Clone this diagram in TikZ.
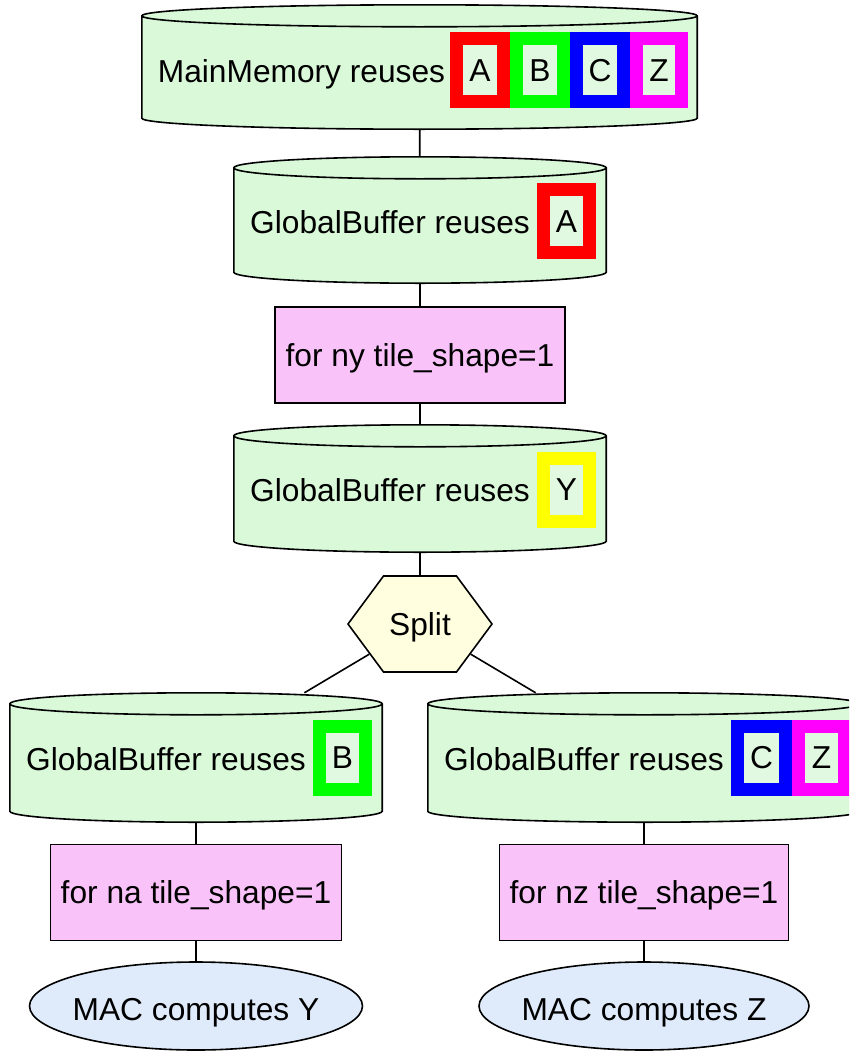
\documentclass[tikz,border=0pt]{standalone}
\usepackage{fontspec}
\setmainfont{Liberation Sans}
\usetikzlibrary{shapes.symbols,shapes.geometric,calc}
\definecolor{cylfill}{HTML}{D9F9D9}
\definecolor{innerfill}{HTML}{E1F9E1}
\definecolor{loopfill}{HTML}{F9C3F9}
\definecolor{splitfill}{HTML}{FFFFE0}
\definecolor{macfill}{HTML}{DFEBFB}
\definecolor{tred}{HTML}{FF0000}
\definecolor{tgreen}{HTML}{00FF00}
\definecolor{tblue}{HTML}{0000FF}
\definecolor{tmag}{HTML}{FF00FF}
\definecolor{tyellow}{HTML}{FFFF00}
\newcommand\cylbody[1]{%
  \path[cylshape] let \p1=(#1.north west), \p2=(#1.south east), \n1={(\x2-\x1)/2} in
    (\x1,\y1-11pt) -- (\x1,\y2+11pt)
    arc[start angle=180,end angle=360,x radius=\n1,y radius=11pt]
    -- (\x2,\y1-11pt)
    arc[start angle=0,end angle=180,x radius=\n1,y radius=11pt] -- cycle
    (\x1,\y1-11pt) arc[start angle=180,end angle=360,x radius=\n1,y radius=11pt];}
\begin{document}
\begin{tikzpicture}[x=1pt,y=-1pt,
  font=\fontsize{31.7}{38}\selectfont,
  every node/.append style={inner sep=0pt, text height=22.7pt, text depth=0pt},
  cylnode/.style={rectangle, draw=none},
  cylshape/.style={draw, fill=cylfill, line width=1.6pt},
  tbox/.style={rectangle, draw=#1, line width=13pt, fill=innerfill, minimum height=63pt},
  loopbox/.style={rectangle, draw, line width=1.6pt, fill=loopfill, minimum height=96pt},
  splitnode/.style={signal, signal to=west and east, signal pointer angle=107, draw, line width=1.6pt, fill=splitfill, minimum width=144pt, minimum height=96pt},
  macnode/.style={ellipse, draw, line width=1.6pt, fill=macfill, minimum height=88pt, inner xsep=-60pt, text height=29.7pt, text depth=0pt},
  edge/.style={draw, line width=1.6pt}]
\useasboundingbox (0,0) rectangle (849,1055);
\clip (0,0) rectangle (849,1055);

% MainMemory
\node[cylnode, minimum width=555pt, minimum height=124pt] (mm) at (419.5,67) {};
\cylbody{mm}
\node (mmt) at (301.5,71) {MainMemory reuses};
\node[tbox=tred, minimum width=47pt] (mmA) at (480,70) {A};
\node[tbox=tgreen, minimum width=47pt] (mmB) at (540,70) {B};
\node[tbox=tblue, minimum width=47pt] (mmC) at (600,70) {C};
\node[tbox=tmag, minimum width=45pt] (mmZ) at (659,70) {Z};

% GlobalBuffer A
\node[cylnode, minimum width=372pt, minimum height=126pt] (gbA) at (420,220) {};
\cylbody{gbA}
\node (gbAt) at (390,222) {GlobalBuffer reuses};
\node[tbox=tred, minimum width=46pt] (gbAA) at (566.5,221) {A};

% loop ny
\node[loopbox, minimum width=290pt] (ny) at (420,355) {for ny tile\_shape=1};

% GlobalBuffer Y
\node[cylnode, minimum width=372pt, minimum height=127pt] (gbY) at (420,488.5) {};
\cylbody{gbY}
\node (gbYt) at (390,490) {GlobalBuffer reuses};
\node[tbox=tyellow, minimum width=46pt] (gbYY) at (566.5,489.5) {Y};

% Split
\node[splitnode] (split) at (420,624) {Split};

% GlobalBuffer B
\node[cylnode, minimum width=372pt, minimum height=129pt] (gbB) at (196,757.5) {};
\cylbody{gbB}
\node (gbBt) at (166,759) {GlobalBuffer reuses};
\node[tbox=tgreen, minimum width=46pt] (gbBB) at (342.5,757.5) {B};

% GlobalBuffer C Z
\node[cylnode, minimum width=432pt, minimum height=129pt] (gbCZ) at (644,757.5) {};
\cylbody{gbCZ}
\node (gbCZt) at (584,759) {GlobalBuffer reuses};
\node[tbox=tblue, minimum width=48pt] (gbCZC) at (761.5,757.5) {C};
\node[tbox=tmag, minimum width=46pt] (gbCZZ) at (821.5,757.5) {Z};

% loops
\node[loopbox, minimum width=291pt] (na) at (196,892.5) {for na tile\_shape=1};
\node[loopbox, minimum width=289pt] (nz) at (644,892.5) {for nz tile\_shape=1};

% MACs
\node[macnode, minimum width=333pt] (macY) at (196,1006) {MAC computes Y};
\node[macnode, minimum width=330pt] (macZ) at (644,1006) {MAC computes Z};

% edges
\path[edge] (mm) -- (gbA);
\path[edge] (gbA) -- (ny);
\path[edge] (ny) -- (gbY);
\path[edge] (gbY) -- (split);
\path[edge] (split) -- (gbB);
\path[edge] (split) -- (gbCZ);
\path[edge] (gbB) -- (na);
\path[edge] (na) -- (macY);
\path[edge] (gbCZ) -- (nz);
\path[edge] (nz) -- (macZ);
\end{tikzpicture}
\end{document}
